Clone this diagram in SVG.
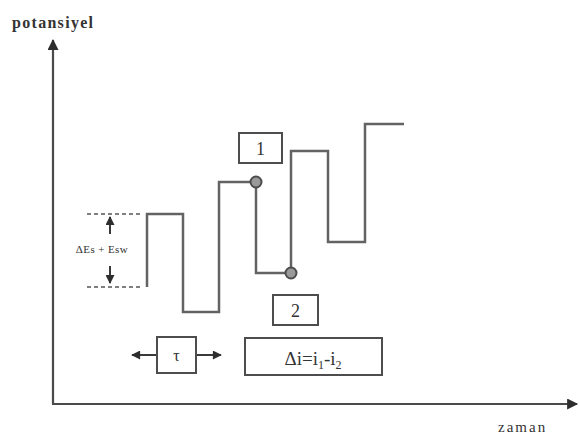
<svg xmlns="http://www.w3.org/2000/svg" width="580" height="437" viewBox="0 0 580 437">
  <style>
    .axis { stroke: #4a4a4a; stroke-width: 2.2; fill: none; }
    .wave { stroke: #636363; stroke-width: 2.5; fill: none; stroke-linejoin: miter; }
    .box { fill: #fff; stroke: #4d4d4d; stroke-width: 2; }
    .dash { stroke: #555; stroke-width: 1.7; stroke-dasharray: 4 3; fill: none; }
    .arr { stroke: #3a3a3a; stroke-width: 2; fill: none; }
    .lbl { font-family: "Liberation Serif", "Times New Roman", serif; fill: #333; }
    .dot { fill: #9a9a9a; stroke: #4d4d4d; stroke-width: 2; }
  </style>
  <defs>
    <marker id="head" viewBox="0 0 10 10" refX="9" refY="5" markerWidth="10" markerHeight="9" orient="auto" markerUnits="userSpaceOnUse">
      <path d="M0,0 L10,5 L0,10 z" fill="#2e2e2e"/>
    </marker>
    <marker id="axhead" viewBox="0 0 10 10" refX="9" refY="5" markerWidth="12" markerHeight="11" orient="auto" markerUnits="userSpaceOnUse">
      <path d="M0,0 L10,5 L0,10 z" fill="#2e2e2e"/>
    </marker>
  </defs>

  <rect width="580" height="437" fill="#fff"/>

  <!-- axes -->
  <g id="axes">
    <path class="axis" d="M53,404 L53,40" marker-end="url(#axhead)"/>
    <path class="axis" d="M52,404 L577,404" marker-end="url(#axhead)"/>
    <text class="lbl" x="12" y="28" font-size="16" font-weight="bold" letter-spacing="1.3">potansiyel</text>
    <text class="lbl" x="498" y="432" font-size="15" letter-spacing="2">zaman</text>
  </g>

  <!-- connectors: pulse waveform and measurement marks -->
  <g id="connectors">
    <path class="wave" d="M147,287 L147,214 L183,214 L183,312 L219,312 L219,182 L256,182 L256,273 L291,273 L291,151 L328,151 L328,242 L365,242 L365,124 L404,124"/>
    <path class="dash" d="M87,214 L143,214"/>
    <path class="dash" d="M87,287 L143,287"/>
    <path class="arr" d="M110,234 L110,217" marker-end="url(#head)"/>
    <path class="arr" d="M110,266 L110,283" marker-end="url(#head)"/>
    <path class="arr" d="M157,355 L132,355" marker-end="url(#head)"/>
    <path class="arr" d="M196,355 L221,355" marker-end="url(#head)"/>
  </g>

  <g id="sample1">
    <circle class="dot" cx="256" cy="182" r="5.5"/>
  </g>
  <g id="sample2">
    <circle class="dot" cx="291" cy="273" r="5.5"/>
  </g>

  <g id="label-amp">
    <text class="lbl" x="102" y="253" font-size="11" text-anchor="middle" letter-spacing="0.4">ΔEs + Esw</text>
  </g>

  <g id="box1">
    <rect class="box" x="239" y="133" width="43" height="30"/>
    <text class="lbl" x="260.5" y="155" font-size="18" text-anchor="middle">1</text>
  </g>

  <g id="box2">
    <rect class="box" x="273" y="295" width="45" height="30"/>
    <text class="lbl" x="295.5" y="317" font-size="18" text-anchor="middle">2</text>
  </g>

  <g id="box-tau">
    <rect class="box" x="157" y="337" width="39" height="36"/>
    <text class="lbl" x="176.5" y="361" font-size="16" text-anchor="middle">τ</text>
  </g>

  <g id="box-delta">
    <rect class="box" x="245" y="338" width="137" height="37"/>
    <text class="lbl" x="313" y="365" font-size="19" text-anchor="middle">Δi=i<tspan font-size="12" dy="4">1</tspan><tspan dy="-4">-i</tspan><tspan font-size="12" dy="4">2</tspan></text>
  </g>
</svg>
